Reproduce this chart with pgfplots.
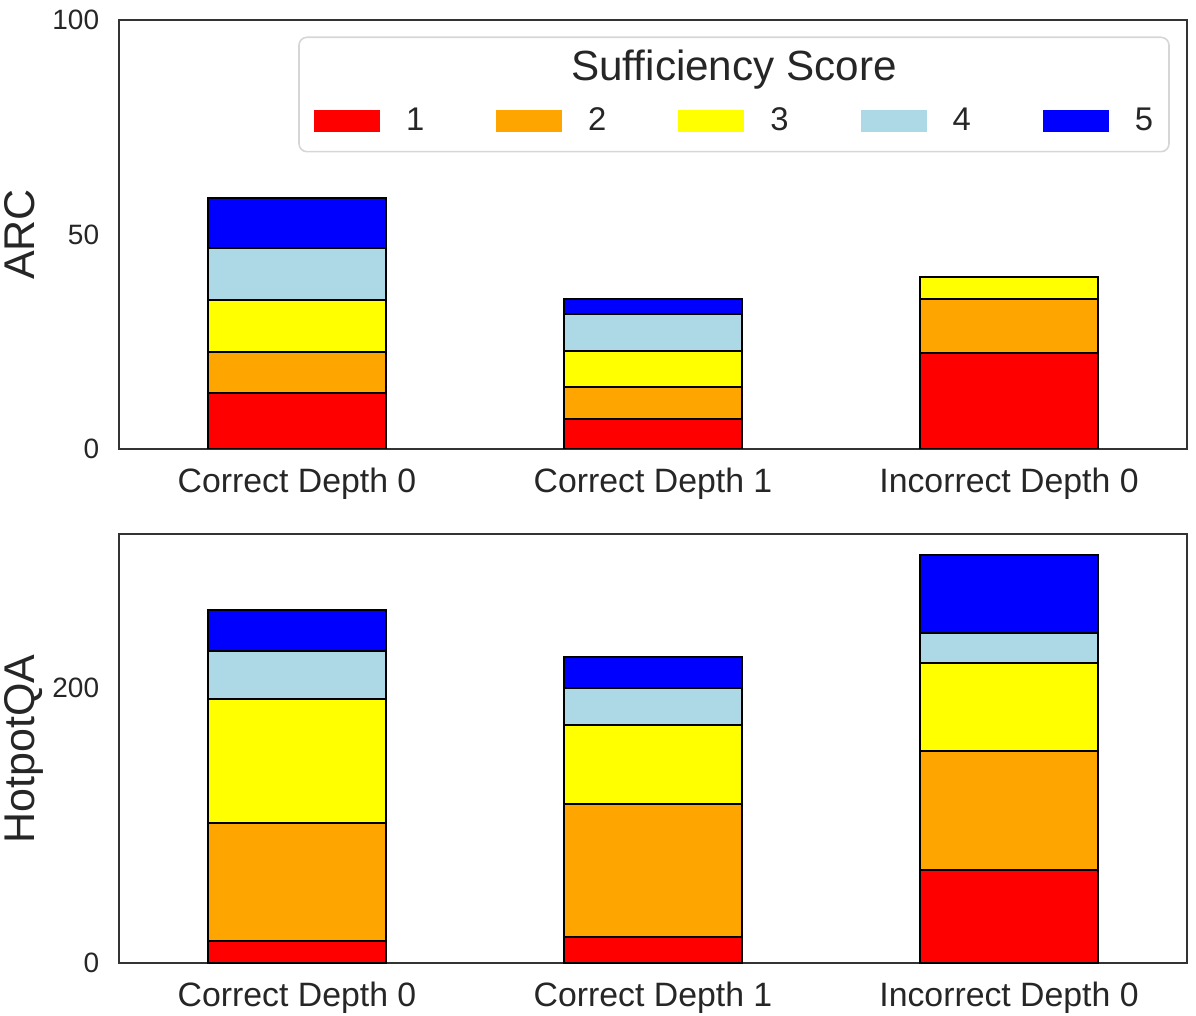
\documentclass[border=0pt]{standalone}
\usepackage{pgfplots}
\pgfplotsset{compat=1.18}
\usepackage{fontspec}
\setmainfont{Liberation Sans}
\definecolor{txt}{HTML}{262626}
\definecolor{axgray}{HTML}{333333}
\definecolor{lgframe}{HTML}{D6D6D6}
\definecolor{c1}{HTML}{FF0000}
\definecolor{c2}{HTML}{FFA500}
\definecolor{c3}{HTML}{FFFF00}
\definecolor{c4}{HTML}{ADD8E6}
\definecolor{c5}{HTML}{0000FF}
\pgfplotsset{
  mybase/.style={
    scale only axis, width=534pt, height=214.5pt,
    xmin=-0.5, xmax=2.5, ymin=0,
    xtick={0,1,2},
    xticklabels={Correct Depth 0, Correct Depth 1, Incorrect Depth 0},
    major tick length=0pt, tick style={draw=none},
    axis line style={draw=axgray, line width=1.1pt},
    ybar stacked, bar width=0.5,
    /pgf/number format/assume math mode=true,
    tick label style={color=txt},
    xticklabel style={font=\fontsize{16.9}{18}\selectfont, inner sep=0pt, anchor=north, yshift=-9.3pt},
    yticklabel style={font=\fontsize{14}{16}\selectfont, inner sep=0pt, anchor=east, xshift=-9.75pt},
    ylabel style={font=\fontsize{21.5}{24}\selectfont, color=txt, at={(rel axis cs:-0.0787,0.5)}, anchor=base},
    every axis plot/.append style={draw=black, line width=1pt},
    legend image code/.code={\fill[#1,draw=none] (0pt,-5.41pt) rectangle (33pt,5.59pt);},
  }
}
\begin{document}
\begin{tikzpicture}
\useasboundingbox (0,0) rectangle (598pt,508pt);
\begin{axis}[mybase, at={(59.5pt,283.5pt)}, anchor=south west,
  ymax=100, ytick={0,50,100}, ylabel={ARC},
  legend columns=5,
  legend style={at={(axis description cs:0.18258,0.7646)}, anchor=west,
    draw=none, fill=none, inner sep=0pt, outer sep=0pt,
    font=\fontsize{16.4}{18}\selectfont, text=txt, nodes={inner sep=0pt},
    /tikz/every odd column/.style={column sep=13pt},
    /tikz/every even column/.style={column sep=36pt}},
]
\addplot[fill=c1] coordinates {(0,13.0) (1,6.9) (2,22.45)};
\addplot[fill=c2] coordinates {(0,9.6) (1,7.5) (2,12.45)};
\addplot[fill=c3] coordinates {(0,12.1) (1,8.5) (2,5.1)};
\addplot[fill=c4] coordinates {(0,12.2) (1,8.5) (2,0)};
\addplot[fill=c5] coordinates {(0,11.7) (1,3.6) (2,0)};
\addlegendentry{1}
\addlegendentry{2}
\addlegendentry{3}
\addlegendentry{4}
\addlegendentry{5}
\end{axis}
\begin{axis}[mybase, at={(59.5pt,26.35pt)}, anchor=south west,
  ymax=311.85, ytick={0,200}, ylabel={HotpotQA}]
\addplot[fill=c1] coordinates {(0,16) (1,19) (2,68)};
\addplot[fill=c2] coordinates {(0,86) (1,97) (2,86)};
\addplot[fill=c3] coordinates {(0,90) (1,57) (2,64)};
\addplot[fill=c4] coordinates {(0,35) (1,27) (2,22)};
\addplot[fill=c5] coordinates {(0,30) (1,23) (2,57)};
\end{axis}
\draw[lgframe, line width=0.8pt, rounded corners=4pt] (149.5pt,432.15pt) rectangle (584.5pt,489.35pt);
\node[anchor=base, font=\fontsize{21.1}{24}\selectfont, text=txt, inner sep=0pt] at (367pt,467.9pt) {Sufficiency Score};
\end{tikzpicture}
\end{document}
